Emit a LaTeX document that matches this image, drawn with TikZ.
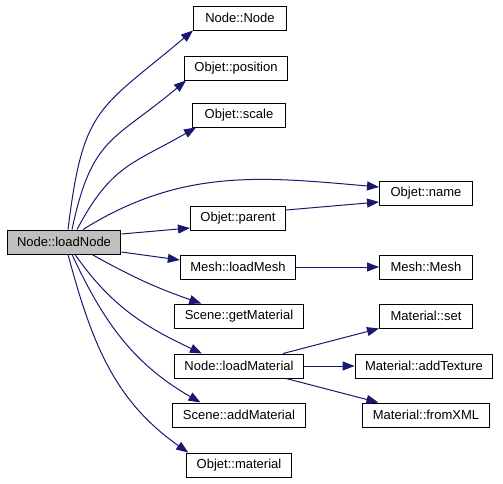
\documentclass[tikz,border=0pt]{standalone}
\usepackage{fontspec}
\setmainfont{Liberation Sans}
\usetikzlibrary{shapes,arrows.meta,positioning}
\definecolor{callblue}{HTML}{191970}
\definecolor{rootgray}{HTML}{BFBFBF}

\begin{document}
\begin{tikzpicture}[x=1pt, y=-1pt,
  fn/.style={rectangle, draw, line width=1pt, fill=white, inner xsep=10pt,
    minimum width=93pt, minimum height=24pt, font=\fontsize{13}{15}\selectfont},
  call/.style={-{Triangle[length=12pt,width=9pt]}, color=callblue, line width=1pt}]
  \useasboundingbox (0,0) rectangle (503,483);

  % caller
  \node[fn, fill=rootgray] (root) at (64,242) {Node::loadNode};

  % first level
  \node[fn] (nn) at (240,18) {Node::Node};
  \node[fn] (pos) at (236,68) {Objet::position};
  \node[fn] (scl) at (239,115) {Objet::scale};
  \node[fn] (parent) at (238,218) {Objet::parent};
  \node[fn] (lmesh) at (238,267) {Mesh::loadMesh};
  \node[fn] (getmat) at (239,316) {Scene::getMaterial};
  \node[fn] (lmat) at (239,366) {Node::loadMaterial};
  \node[fn] (addmat) at (239,415) {Scene::addMaterial};
  \node[fn] (omat) at (239,465) {Objet::material};

  % second level
  \node[fn] (name) at (426,193) {Objet::name};
  \node[fn] (mesh) at (426,267) {Mesh::Mesh};
  \node[fn] (mset) at (426,316) {Material::set};
  \node[fn] (addtex) at (424,366) {Material::addTexture};
  \node[fn] (fxml) at (426,415) {Material::fromXML};

  % calls from loadNode
  \draw[call] ([xshift=4pt]root.north) to[out=83, in=-140, looseness=1.35] (nn.south west);
  \draw[call] ([xshift=8pt]root.north) to[out=78, in=-140, looseness=1.3] ([xshift=2pt]pos.south west);
  \draw[call] ([xshift=13pt]root.north) to[out=62, in=-150, looseness=1.2] ([xshift=4pt]scl.south west);
  \draw[call] ([xshift=19pt]root.north) to[out=32, in=175] ([yshift=6pt]name.west);
  \draw[call] ([yshift=8pt]root.east) -- ([yshift=-10pt]parent.west);
  \draw[call] ([yshift=-10pt]root.east) -- ([yshift=7pt]lmesh.west);
  \draw[call] ([xshift=28pt]root.south) to[bend right=5] ([xshift=27pt]getmat.north west);
  \draw[call] ([xshift=11pt]root.south) to[out=-55, in=155] ([xshift=28pt]lmat.north west);
  \draw[call] ([xshift=8pt]root.south) to[out=-65, in=150] ([xshift=28pt]addmat.north west);
  \draw[call] ([xshift=4pt]root.south) to[out=-75, in=145] ([xshift=2pt]omat.north west);

  % nested calls
  \draw[call] ([yshift=8pt]parent.east) -- ([yshift=-9pt]name.west);
  \draw[call] (lmesh) -- (mesh);
  \draw[call] ([xshift=-21pt]lmat.north east) -- (mset.south west);
  \draw[call] (lmat) -- (addtex);
  \draw[call] ([xshift=-18pt]lmat.south east) -- ([xshift=16pt]fxml.north west);
\end{tikzpicture}
\end{document}
